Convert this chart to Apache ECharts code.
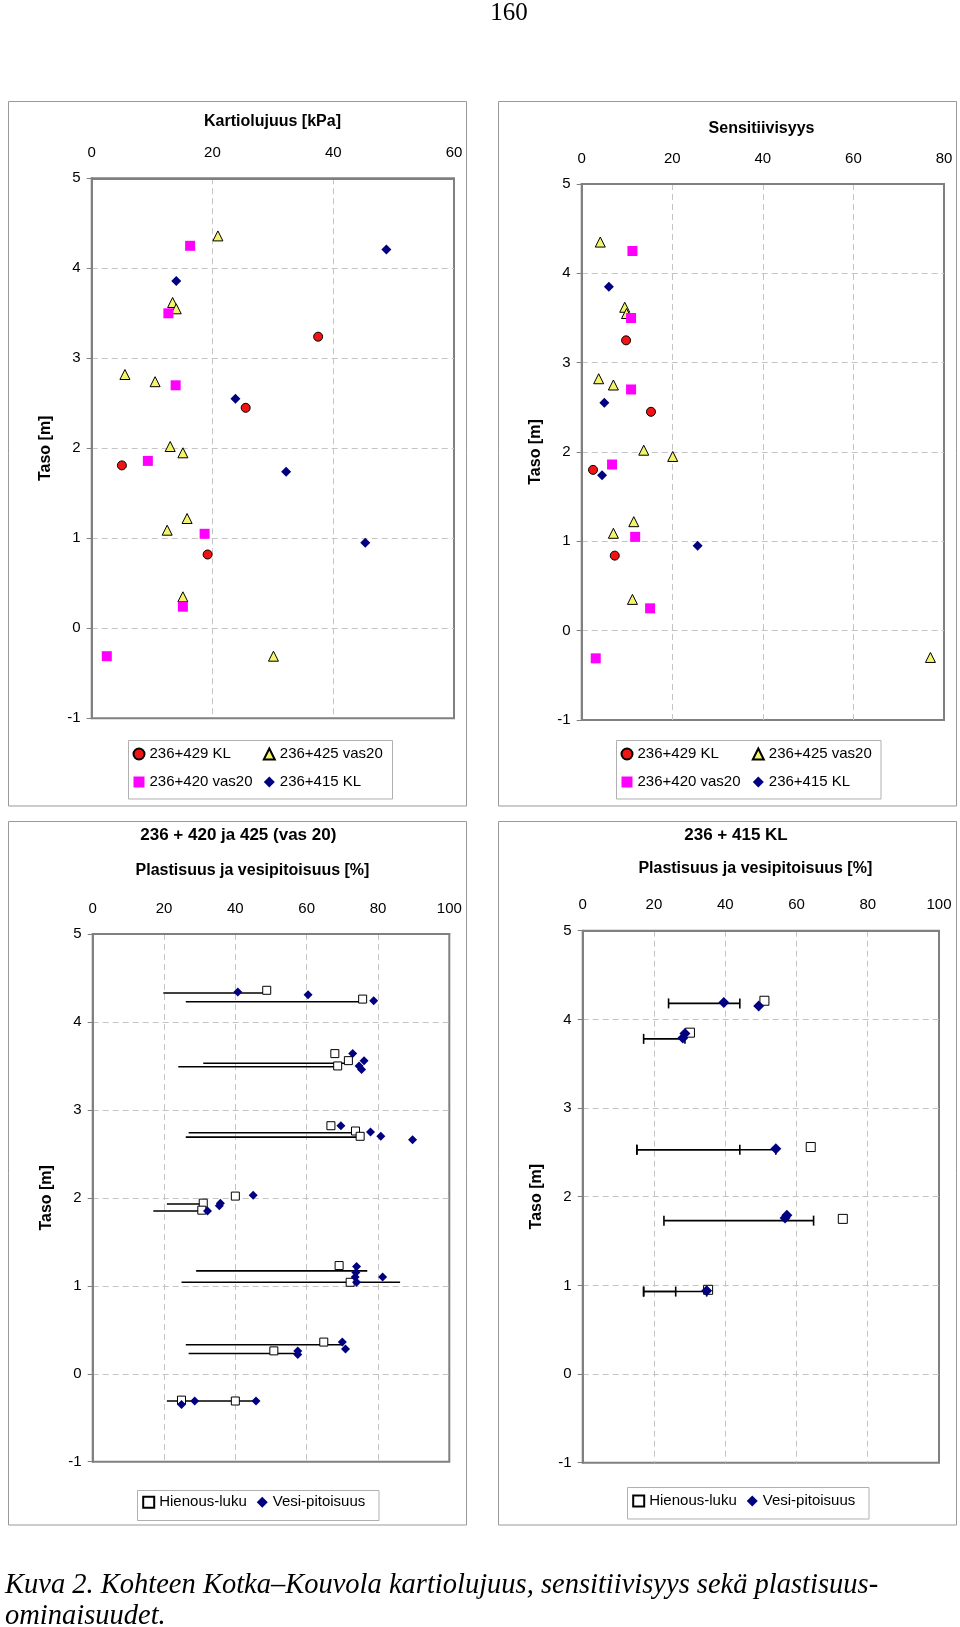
<!DOCTYPE html>
<html>
<head>
<meta charset="utf-8">
<script src="https://cdn.jsdelivr.net/npm/echarts@6/dist/echarts.min.js"></script>
<style>
html,body{margin:0;padding:0;background:#fff;}
#main{width:960px;height:1627px;}
</style>
</head>
<body>
<div id="main"></div>
<script>
// ---------- DATA ----------
// Chart 1: Kartiolujuus [kPa]  ([value, taso])
var kart_429KL   = [[37.5,3.24],[25.5,2.45],[5.0,1.81],[19.2,0.82]];
var kart_425vas  = [[20.9,4.36],[13.4,3.62],[14.0,3.55],[5.5,2.82],[10.5,2.74],[13.0,2.02],[15.1,1.95],[15.8,1.22],[12.5,1.09],[15.1,0.35],[30.1,-0.31]];
var kart_420vas  = [[16.3,4.25],[12.7,3.50],[13.9,2.70],[9.3,1.86],[18.7,1.05],[15.1,0.24],[2.5,-0.31]];
var kart_415KL   = [[48.8,4.21],[14.0,3.86],[23.8,2.55],[32.2,1.74],[45.3,0.95]];
// Chart 2: Sensitiivisyys
var sens_429KL   = [[9.8,3.25],[15.3,2.45],[2.5,1.80],[7.3,0.84]];
var sens_425vas  = [[4.1,4.35],[9.5,3.62],[9.9,3.55],[3.75,2.82],[7.0,2.75],[13.7,2.02],[20.1,1.95],[11.5,1.22],[7.0,1.09],[11.2,0.35],[77.0,-0.30]];
var sens_420vas  = [[11.2,4.25],[10.9,3.50],[10.9,2.70],[6.7,1.86],[11.8,1.05],[15.1,0.25],[3.1,-0.31]];
var sens_415KL   = [[6.0,3.85],[5.0,2.55],[4.5,1.74],[25.6,0.95]];
// Chart 3: 236 + 420 ja 425 (vas 20)
var hien_420_425 = [[48.8,4.36],[75.7,4.26],[67.9,3.64],[71.7,3.56],[68.7,3.50],[66.8,2.82],[73.7,2.76],[75.0,2.70],[40.0,2.02],[31.0,1.94],[30.6,1.86],[69.1,1.23],[72.2,1.04],[64.8,0.36],[50.8,0.26],[24.9,-0.30],[40.0,-0.31]];
var vesi_420_425 = [[40.7,4.34],[60.4,4.31],[78.8,4.24],[72.9,3.64],[76.1,3.56],[74.7,3.50],[75.4,3.46],[69.6,2.82],[77.9,2.75],[80.8,2.70],[89.7,2.66],[45.0,2.03],[35.8,1.94],[35.5,1.91],[32.2,1.85],[74.0,1.22],[73.8,1.15],[73.6,1.10],[74.0,1.04],[81.3,1.10],[70.0,0.36],[70.9,0.28],[57.5,0.26],[57.5,0.22],[24.9,-0.35],[28.6,-0.31],[45.8,-0.31]];
// ranges [taso, from, to]
var range_420_425 = [[4.33,19.8,48.8],[4.23,26.1,75.9],[3.53,31.0,71.7],[3.49,24.0,68.9],[2.74,26.9,73.8],[2.69,26.1,75.0],[1.93,20.8,31.0],[1.85,17.0,30.6],[1.17,29.0,77.0],[1.04,24.9,86.2],[0.33,26.1,70.3],[0.23,26.9,57.7],[-0.31,20.8,45.8]];
// Chart 4: 236 + 415 KL
var hien_415 = [[51.0,4.21],[30.1,3.85],[64.0,2.56],[73.0,1.75],[35.2,0.95]];
var vesi_415 = [[39.6,4.19],[49.4,4.15],[28.7,3.84],[28.1,3.79],[54.2,2.54],[56.8,1.76],[57.3,1.79],[34.8,0.94]];
var range_415 = [[4.18,24.1,44.1],[3.78,17.1,28.7],[2.53,15.2,54.2],[2.53,15.2,44.1],[1.73,22.8,64.8],[0.93,17.1,34.8],[0.93,17.1,26.1]];

var xTicks1 = [0,20,40,60], xTicks2 = [0,20,40,60,80], xTicks3 = [0,20,40,60,80,100];
var yTicks = [-1,0,1,2,3,4,5];

// ---------- STYLE ----------
var SANS = '"Liberation Sans", Arial, sans-serif';
var SERIF = '"Liberation Serif", "Times New Roman", serif';
var RED = '#f01414', YEL = '#f4f46a', MAG = '#ff00ff', NAVY = '#000080';

var grids = [
  {left:91.7, top:178.3, width:362.3, height:540},
  {left:581.7, top:184, width:362.3, height:536},
  {left:92.7, top:934, width:356.6, height:527.7},
  {left:582.7, top:930.7, width:356.3, height:532}
];
var xMax = [60,80,100,100];

function mkX(i){
  return {gridIndex:i, type:'value', position:'top', min:0, max:xMax[i], interval:20,
    axisLine:{show:true, onZero:false, lineStyle:{color:'#808080', width:2}},
    axisTick:{show:false},
    axisLabel:{color:'#000', fontFamily:SANS, fontSize:15, margin:18},
    splitLine:{show:true, showMinLine:false, showMaxLine:false, lineStyle:{color:'#c4c4c4', type:[6,4], width:1}}
  };
}
function mkY(i){
  return {gridIndex:i, type:'value', min:-1, max:5, interval:1,
    name:'Taso [m]', nameLocation:'middle', nameGap:38,
    nameTextStyle:{color:'#000', fontFamily:SANS, fontSize:16, fontWeight:'bold'},
    axisLine:{show:true, onZero:false, lineStyle:{color:'#808080', width:2}},
    axisTick:{show:true, inside:false, length:5, lineStyle:{color:'#808080'}},
    axisLabel:{color:'#000', fontFamily:SANS, fontSize:15, margin:11},
    splitLine:{show:true, showMinLine:false, showMaxLine:false, lineStyle:{color:'#c4c4c4', type:[6,4], width:1}}
  };
}
function sc(name, i, data, symbol, size, color, border){
  return {type:'scatter', name:name, xAxisIndex:i, yAxisIndex:i, data:data,
    symbol:symbol, symbolSize:size, z:3,
    itemStyle:{color:color, borderColor:border? '#000': undefined, borderWidth:border? 1:0, opacity:1},
    emphasis:{disabled:true}};
}
function rangeSeries(i, data, caps){
  return {type:'custom', xAxisIndex:i, yAxisIndex:i, data:data, z:2, silent:true,
    encode:{x:[1,2], y:0},
    renderItem:function(params, api){
      var y = api.value(0), a = api.coord([api.value(1), y]), b = api.coord([api.value(2), y]);
      var ch = [{type:'line', shape:{x1:a[0], y1:a[1], x2:b[0], y2:b[1]}, style:{stroke:'#000', lineWidth:1.6}}];
      if (caps) {
        [a,b].forEach(function(p){
          ch.push({type:'line', shape:{x1:p[0], y1:p[1]-5, x2:p[0], y2:p[1]+5}, style:{stroke:'#000', lineWidth:1.6}});
        });
      }
      return {type:'group', children:ch};
    }
  };
}
function leg(data, left, top, orient, gap){
  return {data:data, left:left, top:top, orient:orient, itemGap:gap, padding:0,
    itemWidth:11, itemHeight:11, selectedMode:false,
    textStyle:{color:'#000', fontFamily:SANS, fontSize:15}};
}
function box(x,y,w,h,color){
  return {type:'rect', shape:{x:x, y:y, width:w, height:h}, style:{fill:null, stroke:color, lineWidth:1}, z:0, silent:true};
}
function txt(s, x, y, size, weight, font){
  return {type:'text', x:x, y:y, style:{text:s, fill:'#000', font:(weight||'normal')+' '+size+'px '+(font||SANS), align:'center', verticalAlign:'middle'}, silent:true};
}

var series = [
  sc('236+429 KL', 0, kart_429KL, 'circle', 9, RED, true),
  sc('236+425 vas20', 0, kart_425vas, 'triangle', 10, YEL, true),
  sc('236+420 vas20', 0, kart_420vas, 'rect', 10, MAG, false),
  sc('236+415 KL', 0, kart_415KL, 'diamond', 10, NAVY, false),
  sc('236+429 KL', 1, sens_429KL, 'circle', 9, RED, true),
  sc('236+425 vas20', 1, sens_425vas, 'triangle', 10, YEL, true),
  sc('236+420 vas20', 1, sens_420vas, 'rect', 10, MAG, false),
  sc('236+415 KL', 1, sens_415KL, 'diamond', 10, NAVY, false),
  rangeSeries(2, range_420_425, false),
  sc('Hienous-luku', 2, hien_420_425, 'rect', 8, '#fff', true),
  sc('Vesi-pitoisuus', 2, vesi_420_425, 'diamond', 9, NAVY, false),
  rangeSeries(3, range_415, true),
  sc('Hienous-luku', 3, hien_415, 'rect', 9, '#fff', true),
  sc('Vesi-pitoisuus', 3, vesi_415, 'diamond', 11, NAVY, false)
];

var option = {
  backgroundColor:'#fff',
  animation:false,
  grid: grids.map(function(g){ return Object.assign({show:true, borderColor:'#808080', borderWidth:2, backgroundColor:'#fff', containLabel:false}, g); }),
  xAxis:[mkX(0), mkX(1), mkX(2), mkX(3)],
  yAxis:[mkY(0), mkY(1), mkY(2), mkY(3)],
  legend:[
    leg(['236+429 KL','236+420 vas20'], 132.5, 746.5, 'vertical', 13),
    leg(['236+425 vas20','236+415 KL'], 262.8, 746.5, 'vertical', 13),
    leg(['236+429 KL','236+420 vas20'], 620.5, 746.5, 'vertical', 13),
    leg(['236+425 vas20','236+415 KL'], 751.8, 746.5, 'vertical', 13),
    leg(['Hienous-luku','Vesi-pitoisuus'], 142.2, 1494.8, 'horizontal', 10),
    leg(['Hienous-luku','Vesi-pitoisuus'], 632.2, 1493.5, 'horizontal', 10)
  ],
  graphic:[
    box(8.5, 101.5, 458, 704.5, '#999'),
    box(498.5, 101.5, 458, 704.5, '#999'),
    box(8.5, 821.5, 458, 703.5, '#999'),
    box(498.5, 821.5, 458, 703.5, '#999'),
    box(128.5, 740.5, 264, 58.5, '#b0b0b0'),
    box(616.5, 740.5, 264.5, 58.5, '#b0b0b0'),
    box(137.5, 1490.5, 241.5, 30, '#b0b0b0'),
    box(627.5, 1487.5, 241.5, 31.5, '#b0b0b0'),
    txt('Kartiolujuus [kPa]', 272.5, 121.7, 16, 'bold'),
    txt('Sensitiivisyys', 761.5, 128.3, 16, 'bold'),
    txt('236 + 420 ja 425 (vas 20)', 238.3, 835.7, 17, 'bold'),
    txt('Plastisuus ja vesipitoisuus [%]', 252.5, 871, 16, 'bold'),
    txt('236 + 415 KL', 736, 835, 17, 'bold'),
    txt('Plastisuus ja vesipitoisuus [%]', 755.3, 869, 16, 'bold'),
    txt('160', 509, 13, 25, 'normal', SERIF),
    {type:'text', x:5, y:1585, scaleX:0.95, style:{text:'Kuva 2. Kohteen Kotka\u2013Kouvola kartiolujuus, sensitiivisyys sek\u00e4 plastisuus-', fill:'#000', font:'italic 30px '+SERIF, align:'left', verticalAlign:'middle'}, silent:true},
    {type:'text', x:5, y:1616, scaleX:0.95, style:{text:'ominaisuudet.', fill:'#000', font:'italic 30px '+SERIF, align:'left', verticalAlign:'middle'}, silent:true}
  ],
  series:series
};

var chart = echarts.init(document.getElementById('main'), null, {renderer:'canvas', width:960, height:1627});
chart.setOption(option);
</script>
</body>
</html>
